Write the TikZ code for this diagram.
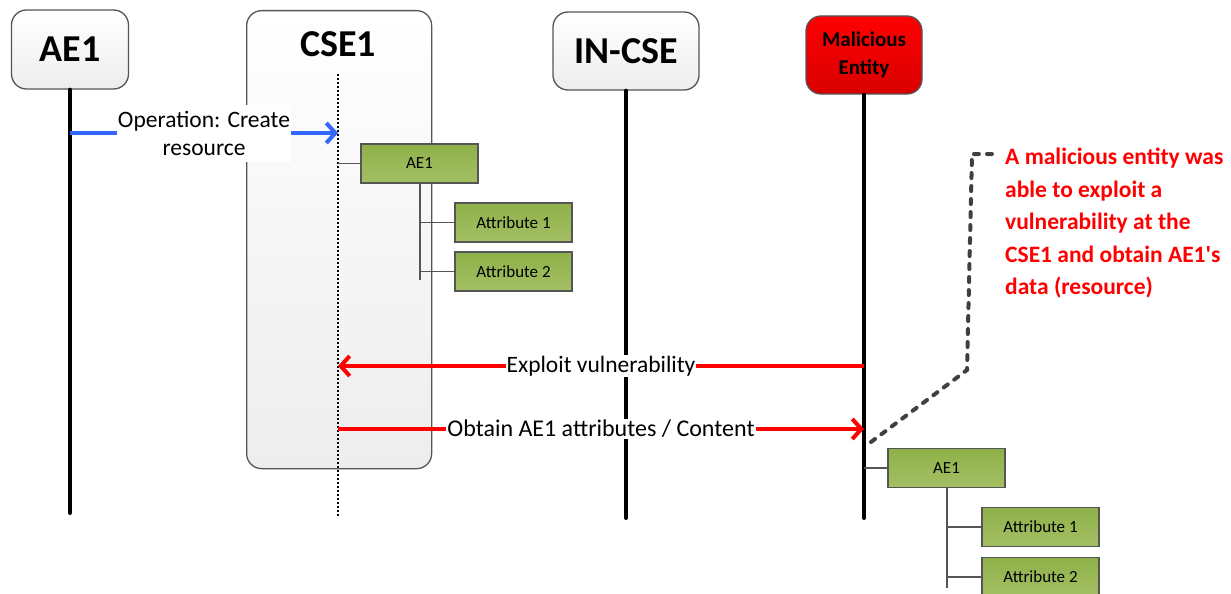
\documentclass[tikz,border=0pt]{standalone}
\usepackage{fontspec}
\setmainfont{Carlito}
\usetikzlibrary{arrows.meta}
\definecolor{edgegray}{HTML}{555555}
\definecolor{dashgray}{HTML}{404040}
\definecolor{arrowblue}{HTML}{3366FF}
\definecolor{greentop}{HTML}{8FB04A}
\definecolor{greenbot}{HTML}{A3C063}
\tikzset{
  hdr/.style={draw=edgegray, line width=1.3pt, rounded corners=15pt, top color=white, bottom color=black!7, inner sep=0pt},
  hdrtext/.style={font=\fontsize{38}{40}\selectfont\bfseries},
  evil/.style={draw=edgegray, line width=1.3pt, rounded corners=15pt, top color=red, bottom color=red!85!black, inner sep=0pt,
    font=\fontsize{21}{28}\selectfont\bfseries, align=center},
  life/.style={line width=4pt, line cap=round},
  dotlife/.style={line width=1.2pt, dash pattern=on 2pt off 2pt},
  res/.style={draw=edgegray, line width=1.5pt, top color=greentop, bottom color=greenbot, minimum width=117pt, minimum height=39pt,
    inner sep=0pt, font=\fontsize{17}{18}\selectfont},
  tree/.style={draw=edgegray, line width=1.5pt},
  msg/.style={line width=4pt, -{Straight Barb[length=9pt,width=20pt,line width=4pt]}},
  lbl/.style={fill=white, text=black, inner sep=1pt, font=\fontsize{23.5}{28}\selectfont, align=center},
  callout/.style={draw=dashgray, line width=4pt, line cap=round, dash pattern=on 5pt off 8pt},
}
\begin{document}
\begin{tikzpicture}[x=1pt,y=-1pt]
\useasboundingbox (0,0) rectangle (1231,594);
% CSE1 tall box
\node[hdr, minimum width=185pt, minimum height=458pt, anchor=north west] (cse1) at (246,10) {};
\node[hdrtext] (cse1lbl) at (338,44) {CSE1};
% headers
\node[hdr, hdrtext, minimum width=117pt, minimum height=79pt] (ae1) at (70,49.5) {AE1};
\node[hdr, hdrtext, minimum width=146pt, minimum height=78pt] (incse) at (626,51) {IN-CSE};
\node[evil, minimum width=116pt, minimum height=78pt] (mal) at (864,55) {Malicious\\Entity};
% lifeline ends
\coordinate (ae1b) at (70,513);
\coordinate (cse1t) at (338,74);
\coordinate (cse1b) at (338,517);
\coordinate (incseb) at (626,518);
\coordinate (malb) at (864,518);
\draw[life] (ae1.south) -- (ae1b);
\draw[dotlife] (cse1t) -- (cse1b);
\draw[life] (incse.south) -- (incseb);
\draw[life] (mal.south) -- (malb);
% messages
\coordinate (m1s) at (70,133);
\coordinate (m1e) at (338,133);
\draw[msg, arrowblue] (m1s) -- (m1e) node[lbl, midway, minimum width=172pt, minimum height=57pt] (m1lbl) {Operation: Create\\resource};
\coordinate (m2s) at (864,366);
\coordinate (m2e) at (338,366);
\draw[msg, red] (m2s) -- (m2e) node[lbl, midway] (m2lbl) {Exploit vulnerability};
\coordinate (m3s) at (338,429);
\coordinate (m3e) at (864,429);
\draw[msg, red] (m3s) -- (m3e) node[lbl, midway, font=\fontsize{24}{28}\selectfont] (m3lbl) {Obtain AE1 attributes / Content};
% upper resource tree
\node[res] (r1) at (419.5,163.5) {AE1};
\node[res] (r1a) at (513.5,222.5) {Attribute 1};
\node[res] (r1b) at (513.5,271.5) {Attribute 2};
\coordinate (r1l) at (338,163.5);
\coordinate (r1t) at (420,280);
\draw[tree] (r1l) -- (r1.west);
\draw[tree] (r1.south -| r1t) -- (r1t);
\draw[tree] (r1a.west -| r1t) -- (r1a.west);
\draw[tree] (r1b.west -| r1t) -- (r1b.west);
% lower resource tree
\node[res] (r2) at (946.5,468) {AE1};
\node[res] (r2a) at (1040.5,527) {Attribute 1};
\node[res] (r2b) at (1040.5,577) {Attribute 2};
\coordinate (r2l) at (864,468);
\coordinate (r2t) at (947,588);
\draw[tree] (r2l) -- (r2.west);
\draw[tree] (r2.south -| r2t) -- (r2t);
\draw[tree] (r2a.west -| r2t) -- (r2a.west);
\draw[tree] (r2b.west -| r2t) -- (r2b.west);
% callout
\node[anchor=north west, inner sep=0pt, text=red, align=left, font=\fontsize{23.5}{32.5}\selectfont\bfseries] (note) at (1005,148)
  {A malicious entity was\\able to exploit a\\vulnerability at the\\CSE1 and obtain AE1\textquotesingle s\\data (resource)};
\coordinate (c0) at (871,442);
\coordinate (c1) at (967,370);
\coordinate (c2) at (972,154);
\coordinate (c3) at (999,154);
\draw[callout] (c0) -- (c1) -- (c2) -- (c3);
\end{tikzpicture}
\end{document}
